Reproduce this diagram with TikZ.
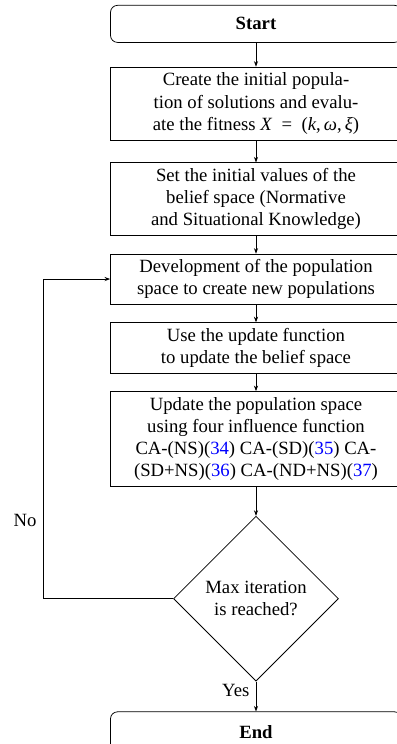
\documentclass[tikz,border=0pt]{standalone}
\usepackage{fontspec}
\setmainfont{Liberation Serif}
\usepackage{tikz}
\usetikzlibrary{arrows.meta, shapes.geometric, positioning, calc}
\tikzset{
  termbox/.style={
    rectangle, rounded corners=3.7pt,
    minimum width=155.6pt, minimum height=#1,
    text centered, font=\bfseries, draw=black
  },
  stepbox/.style={
    rectangle,
    minimum width=155.6pt, minimum height=#1,
    align=center, inner sep=2pt, draw=black
  },
  decbox/.style={
    diamond, aspect=1,
    minimum width=88.2pt, minimum height=88.2pt,
    align=center, inner sep=1pt, draw=black
  },
  flowarrow/.style={-{Stealth[length=3pt, width=2.2pt]}, line width=0.4pt},
}
\newcommand{\citeno}[1]{\textcolor{blue}{#1}}

\begin{document}
\begin{tikzpicture}[font=\fontsize{10pt}{11.8pt}\selectfont]
  \node[termbox=19.8pt](start){Start};
  \node[stepbox=39pt, below=12.8pt of start](init){Create the initial popula-\\
    tion of solutions and evalu-\\
    ate the fitness \textit{X}\enspace=\enspace(\textit{k},\,\textit{ω},\,\textit{ξ})};
  \node[stepbox=39pt, below=11.8pt of init](belief){Set the initial values of the\\
    belief space (Normative\\ and Situational Knowledge)};
  \node[stepbox=26.7pt, below=9.4pt of belief](devel){Development of the population\\
    space to create new populations};
  \node[stepbox=27.3pt, below=9.6pt of devel](upd){Use the update function\\
    to update the belief space};
  \node[stepbox=50.8pt, below=9.1pt of upd](infl){Update the population space\\
    using four influence function\\
    CA-(NS)(\citeno{34}) CA-(SD)(\citeno{35}) CA-\\
    (SD+NS)(\citeno{36}) CA-(ND+NS)(\citeno{37})};
  \node[decbox, below=15.5pt of infl](maxit){Max iteration\\ is reached?};
  \node[termbox=21.4pt, below=16pt of maxit](stop){End};
  \coordinate[left=69.5pt of maxit.west](noturn);

  \draw[flowarrow](start.south)--(init.north);
  \draw[flowarrow](init.south)--(belief.north);
  \draw[flowarrow](belief.south)--(devel.north);
  \draw[flowarrow](devel.south)--(upd.north);
  \draw[flowarrow](upd.south)--(infl.north);
  \draw[flowarrow](infl.south)--(maxit.north);
  \draw[flowarrow](maxit.south)--node[left, pos=0.3]{Yes}(stop.north);
  \draw[flowarrow](maxit.west)--(noturn)|-node[left, pos=0.123]{No}(devel.west);

  \pgfresetboundingbox
  \useasboundingbox ($(start.north)+(-136.9pt,2.67pt)$)
    rectangle ($(start.north)+(74.9pt,-395.2pt)$);
\end{tikzpicture}
\end{document}
